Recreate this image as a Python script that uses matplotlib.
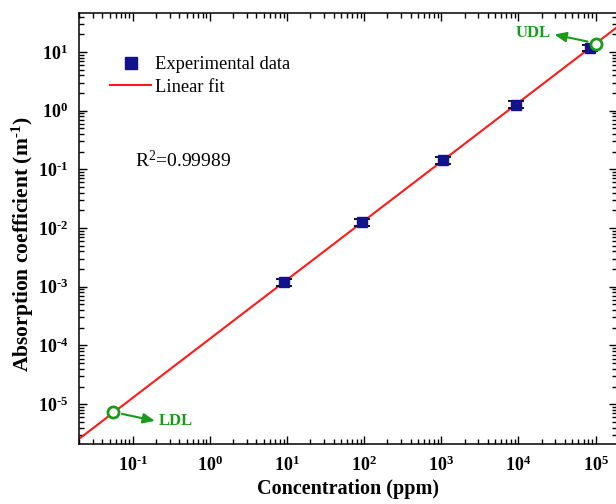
import numpy as np
import matplotlib
matplotlib.use('Agg')
import matplotlib.pyplot as plt
from matplotlib.ticker import LogLocator, FixedLocator, FuncFormatter, NullFormatter
from matplotlib.lines import Line2D

# ---- data ----
conc = [9.0, 95.0, 1050.0, 9200.0, 85000.0]
absorp = [1.2e-3, 1.25e-2, 0.142, 1.27, 11.7]
absorp_err = [0.16e-3, 0.17e-2, 0.019, 0.17, 1.5]
ldl_point = [0.055, 7.4e-6]
udl_point = [1.03e5, 13.9]
x_major = [1e-1, 1e0, 1e1, 1e2, 1e3, 1e4, 1e5]
y_major = [1e-5, 1e-4, 1e-3, 1e-2, 1e-1, 1e0, 1e1]
r2_label = 'R$^2$=0.99989'
xlabel = 'Concentration (ppm)'
ylabel = r'Absorption coefficient (m$^{\mathbf{\text{-}1}}$)'

plt.rcParams['font.family'] = ['Liberation Serif', 'DejaVu Serif']
plt.rcParams['mathtext.fontset'] = 'custom'
plt.rcParams['mathtext.rm'] = 'Liberation Serif'
plt.rcParams['mathtext.it'] = 'Liberation Serif:italic'
plt.rcParams['mathtext.bf'] = 'Liberation Serif:bold'

W, H = 616, 504
fig = plt.figure(figsize=(W / 100, H / 100), dpi=100)
L, R, T, B = 79, 617, 13, 444
ax = fig.add_axes([L / W, 1 - B / H, (R - L) / W, (B - T) / H])

xmin, xmax = 0.02, 1.9e5
ymin, ymax = 2.1e-6, 46

# linear fit in log-log space
p = np.polyfit(np.log10(conc), np.log10(absorp), 1)
xs = np.logspace(np.log10(xmin), np.log10(xmax), 100)
ys = 10 ** np.polyval(p, np.log10(xs))
ax.plot(xs, ys, color='#ff1a1a', lw=1.5, zorder=2)

ax.errorbar(conc, absorp, yerr=absorp_err, fmt='none', ecolor='black',
            elinewidth=1.0, capsize=6, capthick=1.3, zorder=3)
ax.plot(conc, absorp, 's', color='#12128a', ms=7.5, zorder=4)

# LDL / UDL markers
green = '#1a9a1a'
ax.plot([ldl_point[0]], [ldl_point[1]], 'o', mfc='white', mec=green, mew=2, ms=8, zorder=5)
ax.plot([udl_point[0]], [udl_point[1]], 'o', mfc='white', mec=green, mew=2, ms=8, zorder=5)

ax.set_xscale('log')
ax.set_yscale('log')
ax.set_xlim(xmin, xmax)
ax.set_ylim(ymin, ymax)

def fmt(v, pos):
    e = int(round(np.log10(v)))
    if e < 0:
        return r'$\mathbf{10^{\text{-}%d}}$' % (-e)
    return r'$\mathbf{10^{%d}}$' % e

for axis, majors in ((ax.xaxis, x_major), (ax.yaxis, y_major)):
    axis.set_major_locator(FixedLocator(majors))
    axis.set_minor_locator(LogLocator(base=10, subs=np.arange(2, 10), numticks=100))
    axis.set_major_formatter(FuncFormatter(fmt))
    axis.set_minor_formatter(NullFormatter())

ax.tick_params(which='both', direction='in', top=True, right=True, width=1.0)
ax.tick_params(which='major', length=6, labelsize=13, pad=8)
ax.tick_params(which='minor', length=3.5)
for s in ax.spines.values():
    s.set_linewidth(1.1)

fig.text(348 / W, 1 - 489 / H, xlabel, fontsize=14.5, fontweight='bold',
         ha='center', va='center')
fig.text(23 / W, 1 - 244 / H, ylabel, fontsize=15.5, fontweight='bold',
         ha='center', va='center', rotation=90)

# legend
handles = [Line2D([], [], ls='none', marker='s', color='#12128a', ms=8),
           Line2D([], [], color='#ff1a1a', lw=1.5)]
fig.legend(handles, ['Experimental data', 'Linear fit'], loc='upper left',
           bbox_to_anchor=(101 / W, 1 - 47 / H), frameon=False, fontsize=13.3,
           handlelength=2.2, handletextpad=0.2, borderpad=0, labelspacing=0.3)

fig.text(135 / W, 1 - 160 / H, r2_label, fontsize=14, va='center', ha='left')

# annotations (pixel offsets from the circles)
fig.canvas.draw()
def pix(pt):
    return ax.transData.transform(pt)

lx, ly = pix(ldl_point)
ux, uy = pix(udl_point)
arrow = dict(arrowstyle='-|>,head_length=0.7,head_width=0.3', color=green, lw=1.5,
             shrinkA=0, shrinkB=0)
ax.annotate('', xy=(lx + 42, ly - 9), xycoords='figure pixels',
            xytext=(lx + 9, ly - 2), textcoords='figure pixels', arrowprops=arrow)
ax.annotate('LDL', xy=(lx + 46, ly - 9), xycoords='figure pixels', color=green,
            fontsize=12, fontweight='bold', va='center', ha='left')
ax.annotate('', xy=(ux - 42, uy + 9), xycoords='figure pixels',
            xytext=(ux - 9, uy + 2), textcoords='figure pixels', arrowprops=arrow)
ax.annotate('UDL', xy=(ux - 46, uy + 11), xycoords='figure pixels', color=green,
            fontsize=12, fontweight='bold', va='center', ha='right')

fig.savefig('out.png', dpi=100)
